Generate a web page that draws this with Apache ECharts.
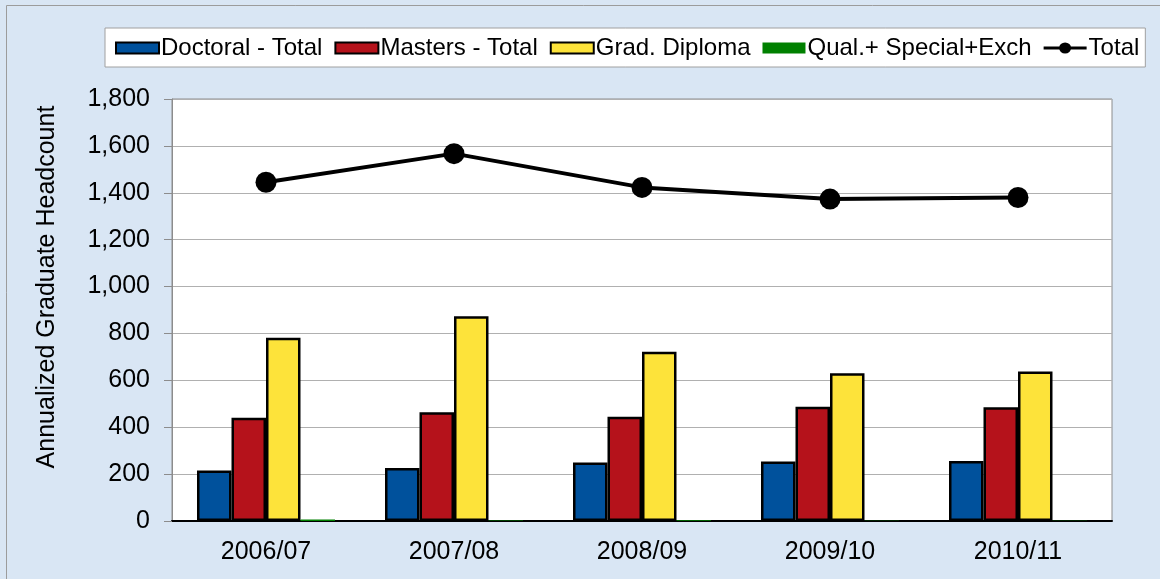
<!DOCTYPE html>
<html>
<head>
<meta charset="utf-8">
<script src="https://cdn.jsdelivr.net/npm/echarts@6/dist/echarts.min.js"></script>
<style>
html,body{margin:0;padding:0;background:#d9e6f4;}
#c{width:1160px;height:579px;}
</style>
</head>
<body>
<div id="c"></div>
<script>
const categories = ['2006/07', '2007/08', '2008/09', '2009/10', '2010/11'];
const doctoral = [215, 226, 250, 254, 256];
const masters = [440, 464, 445, 487, 485];
const gradDiploma = [782, 873, 722, 630, 638];
const qualSpecial = [6, 2, 3, 1, 1];
const total = [1445, 1567, 1423, 1373, 1380];
const seriesNames = ['Doctoral - Total', 'Masters - Total', 'Grad. Diploma', 'Qual.+ Special+Exch', 'Total'];
const yAxisTitle = 'Annualized Graduate Headcount';

const chart = echarts.init(document.getElementById('c'), null, {renderer: 'canvas'});
const font = '"Liberation Sans", Arial, sans-serif';
const barBase = {type: 'bar', barGap: '0%', barCategoryGap: '26.6%'};
const lineDotIcon = 'path://M0,4.1h43v2.8h-43z M15.5,5.5a6,5.5 0 1,1 12,0a6,5.5 0 1,1 -12,0z';
chart.setOption({
  animation: false,
  backgroundColor: '#d9e6f4',
  textStyle: {fontFamily: font},
  graphic: [{
    type: 'rect', silent: true, z: -1,
    shape: {x: 6.5, y: 5.5, width: 1200, height: 700},
    style: {fill: 'none', stroke: '#9c9c9c', lineWidth: 1}
  }],
  legend: {
    left: 105, top: 28,
    backgroundColor: '#ffffff',
    borderColor: '#a0a0a0', borderWidth: 1,
    padding: [8, 6, 7, 10],
    itemWidth: 43, itemHeight: 11, itemGap: 12,
    textStyle: {fontSize: 24, color: '#000', fontFamily: font, padding: [0, 0, 0, -3]},
    data: [
      {name: seriesNames[0], icon: 'rect'},
      {name: seriesNames[1], icon: 'rect'},
      {name: seriesNames[2], icon: 'rect'},
      {name: seriesNames[3], icon: 'rect'},
      {name: seriesNames[4], icon: lineDotIcon, itemStyle: {color: '#000', borderWidth: 0}}
    ]
  },
  grid: {
    left: 172, right: 48, top: 99, bottom: 58,
    show: true, backgroundColor: '#ffffff', borderColor: '#8c8c8c', borderWidth: 1
  },
  xAxis: {
    type: 'category', data: categories,
    axisLine: {lineStyle: {color: '#000', width: 2}},
    axisTick: {length: 7, lineStyle: {color: '#8c8c8c', width: 1}},
    axisLabel: {fontSize: 25, color: '#000', margin: 19, fontFamily: font}
  },
  yAxis: {
    type: 'value', min: 0, max: 1800, interval: 200,
    name: yAxisTitle, nameLocation: 'middle', nameGap: 112,
    nameTextStyle: {fontSize: 25, color: '#000', fontFamily: font, padding: [0, 0, 0, 46]},
    axisLine: {show: true, lineStyle: {color: '#8c8c8c', width: 1}},
    axisTick: {show: true, length: 8, lineStyle: {color: '#8c8c8c'}},
    axisLabel: {fontSize: 25, color: '#000', margin: 22, fontFamily: font,
      formatter: v => v.toLocaleString('en-US')},
    splitLine: {lineStyle: {color: '#b0b0b0', width: 1}}
  },
  series: [
    Object.assign({}, barBase, {name: seriesNames[0], data: doctoral,
      itemStyle: {color: '#00519c', borderColor: '#000', borderWidth: 2.5}}),
    Object.assign({}, barBase, {name: seriesNames[1], data: masters,
      itemStyle: {color: '#b5121b', borderColor: '#000', borderWidth: 2.5}}),
    Object.assign({}, barBase, {name: seriesNames[2], data: gradDiploma,
      itemStyle: {color: '#fde33a', borderColor: '#000', borderWidth: 2.5}}),
    Object.assign({}, barBase, {name: seriesNames[3], data: qualSpecial,
      itemStyle: {color: '#008000', borderWidth: 0}}),
    {type: 'line', name: seriesNames[4], data: total, z: 5,
      symbol: 'circle', symbolSize: 21,
      itemStyle: {color: '#000'},
      lineStyle: {color: '#000', width: 4}}
  ]
});
</script>
</body>
</html>
